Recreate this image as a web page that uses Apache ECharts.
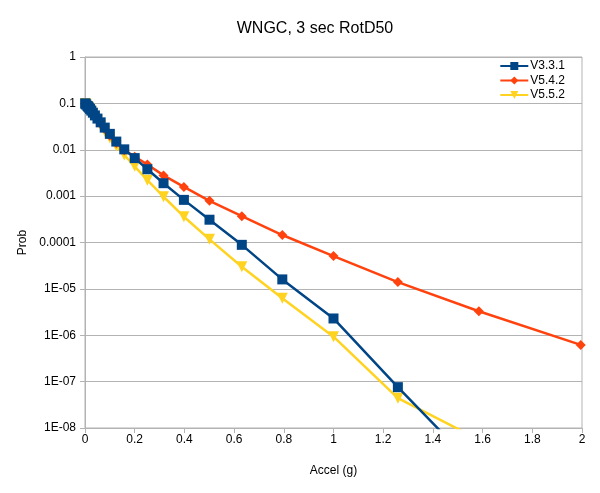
<!DOCTYPE html>
<html>
<head>
<meta charset="utf-8">
<script src="https://cdn.jsdelivr.net/npm/echarts@6/dist/echarts.min.js"></script>
<style>
html,body{margin:0;padding:0;background:#fff;}
#c{width:600px;height:493px;}
</style>
</head>
<body>
<div id="c"></div>
<script>
const accel = [0.001, 0.002, 0.005, 0.01, 0.0126, 0.0158, 0.02, 0.0251, 0.0316, 0.0398, 0.0501, 0.0631, 0.0794, 0.1, 0.126, 0.158, 0.2, 0.251, 0.316, 0.398, 0.501, 0.631, 0.794, 1.0, 1.259, 1.585, 1.995];
const v331 = [0.1, 0.098, 0.094, 0.088, 0.085, 0.081, 0.076, 0.07, 0.063, 0.055, 0.047, 0.039, 0.03, 0.022, 0.015, 0.0102, 0.0066, 0.0038, 0.0019, 0.00083, 0.00031, 8.9e-5, 1.6e-5, 2.3e-6, 7.6e-8, 1.2e-9, null];
const v542 = [0.1, 0.097, 0.093, 0.087, 0.083, 0.079, 0.074, 0.068, 0.061, 0.053, 0.045, 0.036, 0.028, 0.02, 0.014, 0.0098, 0.0071, 0.0048, 0.0028, 0.00158, 0.00079, 0.00037, 0.000145, 5.1e-5, 1.4e-5, 3.3e-6, 6.2e-7];
const v552 = [0.1, 0.097, 0.092, 0.086, 0.082, 0.077, 0.072, 0.066, 0.058, 0.05, 0.042, 0.033, 0.025, 0.018, 0.012, 0.0077, 0.0044, 0.0022, 0.00097, 0.00036, 0.000117, 3.0e-5, 6.3e-6, 9.3e-7, 4.4e-8, 5.6e-9, null];
const seriesNames = ['V3.3.1', 'V5.4.2', 'V5.5.2'];
const yTickLabels = {0: '1', '-1': '0.1', '-2': '0.01', '-3': '0.001', '-4': '0.0001', '-5': '1E-05', '-6': '1E-06', '-7': '1E-07', '-8': '1E-08'};

function pairs(vals) {
  const out = [];
  for (let i = 0; i < accel.length; i++) {
    if (vals[i] != null) out.push([accel[i], vals[i]]);
  }
  return out;
}

const chart = echarts.init(document.getElementById('c'));
const font = 'Liberation Sans';
chart.setOption({
  animation: false,
  backgroundColor: '#ffffff',
  title: {
    text: 'WNGC, 3 sec RotD50',
    left: 310, top: 16, textAlign: 'center',
    textStyle: {fontFamily: font, fontSize: 16, fontWeight: 'normal', color: '#000'}
  },
  legend: {
    right: 30, top: 55, orient: 'vertical',
    itemWidth: 28, itemHeight: 10, itemGap: 2.5,
    textStyle: {fontFamily: font, fontSize: 12, color: '#000', padding: [0,0,0,-3]},
    data: seriesNames
  },
  grid: {left: 85, right: 18, top: 57, bottom: 65, show: true, borderColor: '#b3b3b3', borderWidth: 1},
  xAxis: {
    type: 'value', min: 0, max: 2, interval: 0.2,
    name: 'Accel (g)', nameLocation: 'middle', nameGap: 37,
    nameTextStyle: {fontFamily: font, fontSize: 12, color: '#000'},
    axisLine: {show: true, lineStyle: {color: '#b3b3b3'}},
    axisTick: {show: true, length: 5, lineStyle: {color: '#b3b3b3'}},
    axisLabel: {fontFamily: font, fontSize: 12, color: '#000', margin: 6,
      formatter: v => String(Math.round(v * 10) / 10)},
    splitLine: {show: false}
  },
  yAxis: {
    type: 'log', min: 1e-8, max: 1, logBase: 10,
    name: 'Prob', nameLocation: 'middle', nameGap: 52,
    nameTextStyle: {fontFamily: font, fontSize: 12, color: '#000'},
    axisLine: {show: true, lineStyle: {color: '#b3b3b3'}},
    axisTick: {show: true, length: 5, lineStyle: {color: '#b3b3b3'}},
    axisLabel: {fontFamily: font, fontSize: 12, color: '#000', margin: 9,
      formatter: v => { const e = Math.round(Math.log10(v)); return yTickLabels[e] || String(v); }},
    splitLine: {show: true, lineStyle: {color: '#b3b3b3', width: 1}}
  },
  series: [
    {name: seriesNames[0], type: 'line', data: pairs(v331), symbol: 'rect', symbolSize: 10,
     itemStyle: {color: '#004586'}, lineStyle: {width: 2.5, color: '#004586'}, clip: true},
    {name: seriesNames[1], type: 'line', data: pairs(v542), symbol: 'diamond', symbolSize: 10,
     itemStyle: {color: '#ff420e'}, lineStyle: {width: 2.5, color: '#ff420e'}, clip: true, z: 1},
    {name: seriesNames[2], type: 'line', data: pairs(v552), symbol: 'triangle', symbolRotate: 180, symbolSize: 11,
     itemStyle: {color: '#ffd320'}, lineStyle: {width: 2.5, color: '#ffd320'}, clip: true, z: 0}
  ]
});
</script>
</body>
</html>
